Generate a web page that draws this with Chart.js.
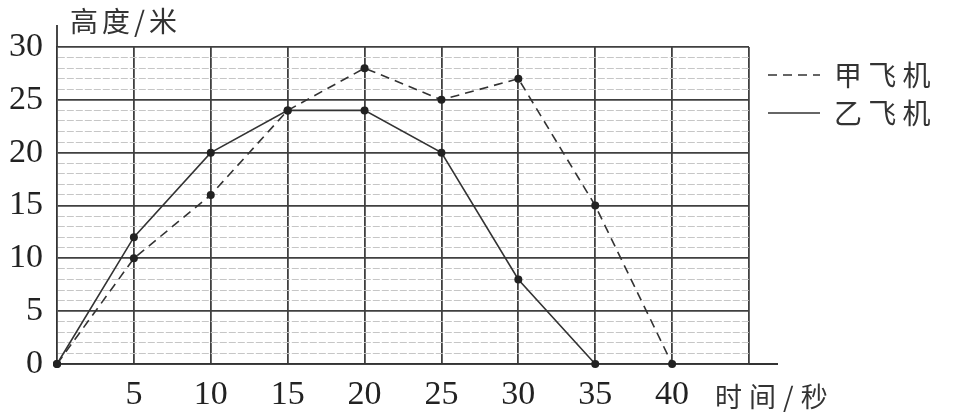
<!DOCTYPE html>
<html>
<head>
<meta charset="utf-8">
<script src="https://cdn.jsdelivr.net/npm/chart.js@4"></script>
<style>
  body { margin: 0; background: #fff; }
</style>
</head>
<body>
<canvas id="my" width="960" height="413"></canvas>
<script>
// data
const xTicks = [0, 5, 10, 15, 20, 25, 30, 35, 40, 45];
const timeJia = [0, 5, 10, 15, 20, 25, 30, 35, 40];
const heightJia = [0, 10, 16, 24, 28, 25, 27, 15, 0];
const timeYi = [0, 5, 10, 15, 20, 25, 30, 35];
const heightYi = [0, 12, 20, 24, 24, 20, 8, 0];
const seriesNames = ['甲 飞 机', '乙 飞 机'];
const yTitle = '高度/米';
const xTitle = '时间/秒';

const ink = '#333';
const gridDark = '#404040';
const gridLight = '#c6c6c6';

function pts(xs, ys) {
    return xs.map((x, i) => ({ x: x, y: ys[i] }));
}

// legend placement, axis extensions and axis titles
const extras = {
    id: 'extras',
    beforeLayout(chart) {
        const lg = chart.legend;
        if (lg && !lg._wrapped) {
            const fit = lg.fit;
            lg.fit = function () {
                fit.call(this);
                this.width = 211;
            };
            lg._wrapped = true;
        }
    },
    afterLayout(chart) {
        const lg = chart.legend;
        const d = 768 - lg.options.labels.padding - lg.left;
        lg.left += d; lg.right += d;
        lg.top += 4; lg.bottom += 4;
    },
    afterDraw(chart) {
        const { ctx, chartArea, scales: { x, y } } = chart;
        const x0 = x.getPixelForValue(0);
        const y0 = y.getPixelForValue(0);
        ctx.save();
        ctx.strokeStyle = ink;
        ctx.lineWidth = 1.8;
        ctx.beginPath();
        ctx.moveTo(x0, chartArea.top);
        ctx.lineTo(x0, chartArea.top - 22);
        ctx.moveTo(chartArea.right, y0);
        ctx.lineTo(chartArea.right + 29, y0);
        ctx.stroke();

        ctx.fillStyle = ink;
        ctx.textBaseline = 'middle';
        ctx.font = '28px "Noto Sans CJK SC"';
        ctx.letterSpacing = '4px';
        ctx.fillText(yTitle, x0 + 13, 21);
        ctx.font = '27px "Noto Sans CJK SC"';
        ctx.letterSpacing = '7px';
        ctx.fillText(xTitle, x.getPixelForValue(40) + 43, 397);
        ctx.restore();
    }
};

new Chart(document.getElementById('my').getContext('2d'), {
    type: 'line',
    data: {
        datasets: [{
            label: seriesNames[0],
            data: pts(timeJia, heightJia),
            borderColor: ink,
            borderWidth: 1.6,
            borderDash: [9, 6],
            pointRadius: 4,
            pointBackgroundColor: '#222',
            pointBorderWidth: 0,
            tension: 0,
            clip: false
        }, {
            label: seriesNames[1],
            data: pts(timeYi, heightYi),
            borderColor: ink,
            borderWidth: 1.6,
            pointRadius: 4,
            pointBackgroundColor: '#222',
            pointBorderWidth: 0,
            tension: 0,
            clip: false
        }]
    },
    options: {
        responsive: false,
        animation: false,
        layout: { padding: { top: 47, left: 0, right: 0, bottom: 0 } },
        plugins: {
            tooltip: { enabled: false },
            legend: {
                position: 'right',
                align: 'start',
                labels: {
                    usePointStyle: true,
                    pointStyle: 'line',
                    pointStyleWidth: 52,
                    padding: 10,
                    color: ink,
                    font: { family: '"Noto Sans CJK SC"', size: 28 },
                    generateLabels(chart) {
                        const items = Chart.defaults.plugins.legend.labels.generateLabels(chart);
                        return items.map((it, i) => Object.assign(it, {
                            pointStyle: 'line',
                            lineWidth: 1.5,
                            strokeStyle: ink,
                            lineDash: chart.data.datasets[i].borderDash || []
                        }));
                    }
                }
            }
        },
        scales: {
            x: {
                type: 'linear',
                min: 0,
                max: 45,
                afterBuildTicks(scale) {
                    scale.ticks = xTicks.map(v => ({ value: v }));
                },
                afterFit(scale) { scale.height = 49; },
                ticks: {
                    autoSkip: false,
                    maxRotation: 0,
                    padding: 11,
                    color: '#222',
                    font: { family: '"Liberation Serif"', size: 34 },
                    callback: v => (v === 0 || v > 40) ? '' : v
                },
                grid: {
                    drawTicks: false,
                    color: c => c.tick && c.tick.value === 0 ? 'rgba(0,0,0,0)' : gridDark,
                    lineWidth: 1.8
                },
                border: { display: true, color: ink, width: 1.8 }
            },
            y: {
                min: 0,
                max: 30,
                afterFit(scale) { scale.width = 57; },
                ticks: {
                    stepSize: 1,
                    autoSkip: false,
                    padding: 14,
                    color: '#222',
                    font: { family: '"Liberation Serif"', size: 34 },
                    callback: v => v % 5 === 0 ? v : ''
                },
                grid: {
                    drawTicks: false,
                    color: c => (c.tick && c.tick.value % 5 === 0) ? gridDark : gridLight,
                    lineWidth: c => (c.tick && c.tick.value % 5 === 0) ? 1.8 : 1
                },
                border: {
                    display: true,
                    color: ink,
                    width: 1.8,
                    dash: c => (c.tick && c.tick.value % 5 !== 0) ? [7, 2] : []
                }
            }
        }
    },
    plugins: [extras]
});
</script>
</body>
</html>
